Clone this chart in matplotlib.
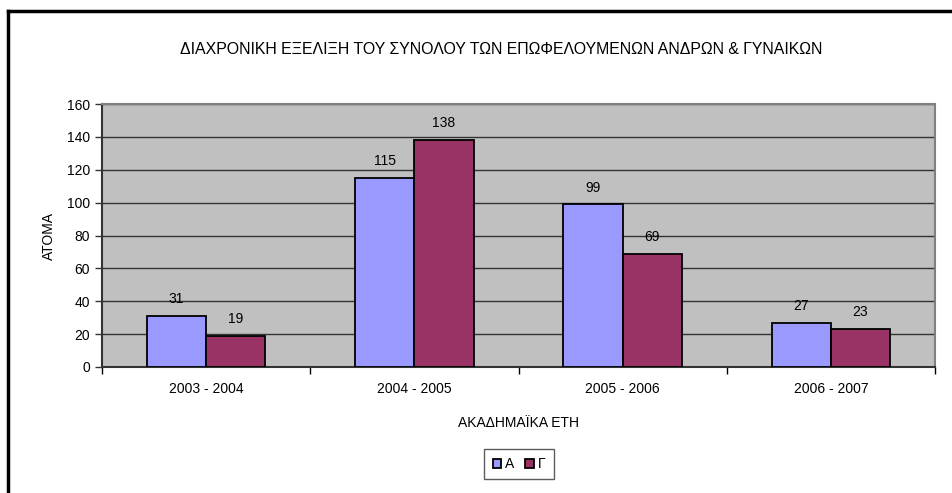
import matplotlib.pyplot as plt
import numpy as np
from matplotlib.lines import Line2D

plt.rcParams['font.family'] = ['Liberation Sans', 'DejaVu Sans']

years = ["2003 - 2004", "2004 - 2005", "2005 - 2006", "2006 - 2007"]
series_names = ["Α", "Γ"]
values_a = [31, 115, 99, 27]
values_g = [19, 138, 69, 23]
y_ticks = [0, 20, 40, 60, 80, 100, 120, 140, 160]

colors = ["#9999FF", "#993366"]

fig = plt.figure(figsize=(9.52, 4.93), dpi=100)
ax = fig.add_axes([102 / 952, 1 - 367 / 493, 833 / 952, 263 / 493])
ax.set_facecolor("#C0C0C0")

x = np.arange(len(years))
w = 0.285
bars_a = ax.bar(x - w / 2, values_a, w, color=colors[0], edgecolor="black",
                linewidth=1.3, label=series_names[0], zorder=3)
bars_g = ax.bar(x + w / 2, values_g, w, color=colors[1], edgecolor="black",
                linewidth=1.3, label=series_names[1], zorder=3)

for bars in (bars_a, bars_g):
    for b in bars:
        ax.annotate(str(int(b.get_height())),
                    (b.get_x() + b.get_width() / 2, b.get_height()),
                    xytext=(0, 7), textcoords="offset points",
                    ha="center", va="bottom", fontsize=10)

ax.set_xlim(-0.5, len(years) - 0.5)
ax.set_ylim(0, 160)
ax.set_yticks(y_ticks)
ax.yaxis.grid(True, color="#333333", linewidth=1, zorder=1)
ax.set_axisbelow(True)

# category labels centred, ticks on the boundaries
ax.set_xticks(x)
ax.set_xticklabels(years, fontsize=10)
ax.tick_params(axis="x", length=0, pad=11)
ax.set_xticks(np.arange(-0.5, len(years)), minor=True)
ax.tick_params(axis="x", which="minor", length=5, width=1, color="black")
ax.tick_params(axis="y", labelsize=10, length=5, width=1, color="#333333")

for side in ("top", "right"):
    ax.spines[side].set_color("#808080")
    ax.spines[side].set_linewidth(1.5)
ax.spines["left"].set_color("#333333")
ax.spines["left"].set_linewidth(1.5)
ax.spines["bottom"].set_color("#333333")
ax.spines["bottom"].set_linewidth(1.5)

ax.set_ylabel("ΑΤΟΜΑ", fontsize=10, labelpad=8)
ax.set_xlabel("ΑΚΑΔΗΜΑΪΚΑ ΕΤΗ", fontsize=10, labelpad=14)

fig.text(501 / 952, 1 - 50 / 493, "ΔΙΑΧΡΟΝΙΚΗ ΕΞΕΛΙΞΗ ΤΟΥ ΣΥΝΟΛΟΥ ΤΩΝ ΕΠΩΦΕΛΟΥΜΕΝΩΝ ΑΝΔΡΩΝ & ΓΥΝΑΙΚΩΝ",
         ha="center", va="center", fontsize=11.4)

leg = fig.legend(handles=[bars_a, bars_g], labels=series_names,
                 loc="center", bbox_to_anchor=(519 / 952, 1 - 464 / 493),
                 ncol=2, fontsize=10, frameon=True, fancybox=False,
                 handlelength=0.6, handleheight=0.6, handletextpad=0.3,
                 columnspacing=0.8, borderpad=0.6)
leg.get_frame().set_edgecolor("#333333")
leg.get_frame().set_linewidth(1)

# outer chart border (only left and top visible in the crop)
fig.add_artist(Line2D([8 / 952, 8 / 952], [0, 1 - 11 / 493], color="black",
                      linewidth=2.5, transform=fig.transFigure))
fig.add_artist(Line2D([8 / 952, 1], [1 - 11 / 493, 1 - 11 / 493], color="black",
                      linewidth=2.5, transform=fig.transFigure))

fig.savefig("out.png", dpi=100)
